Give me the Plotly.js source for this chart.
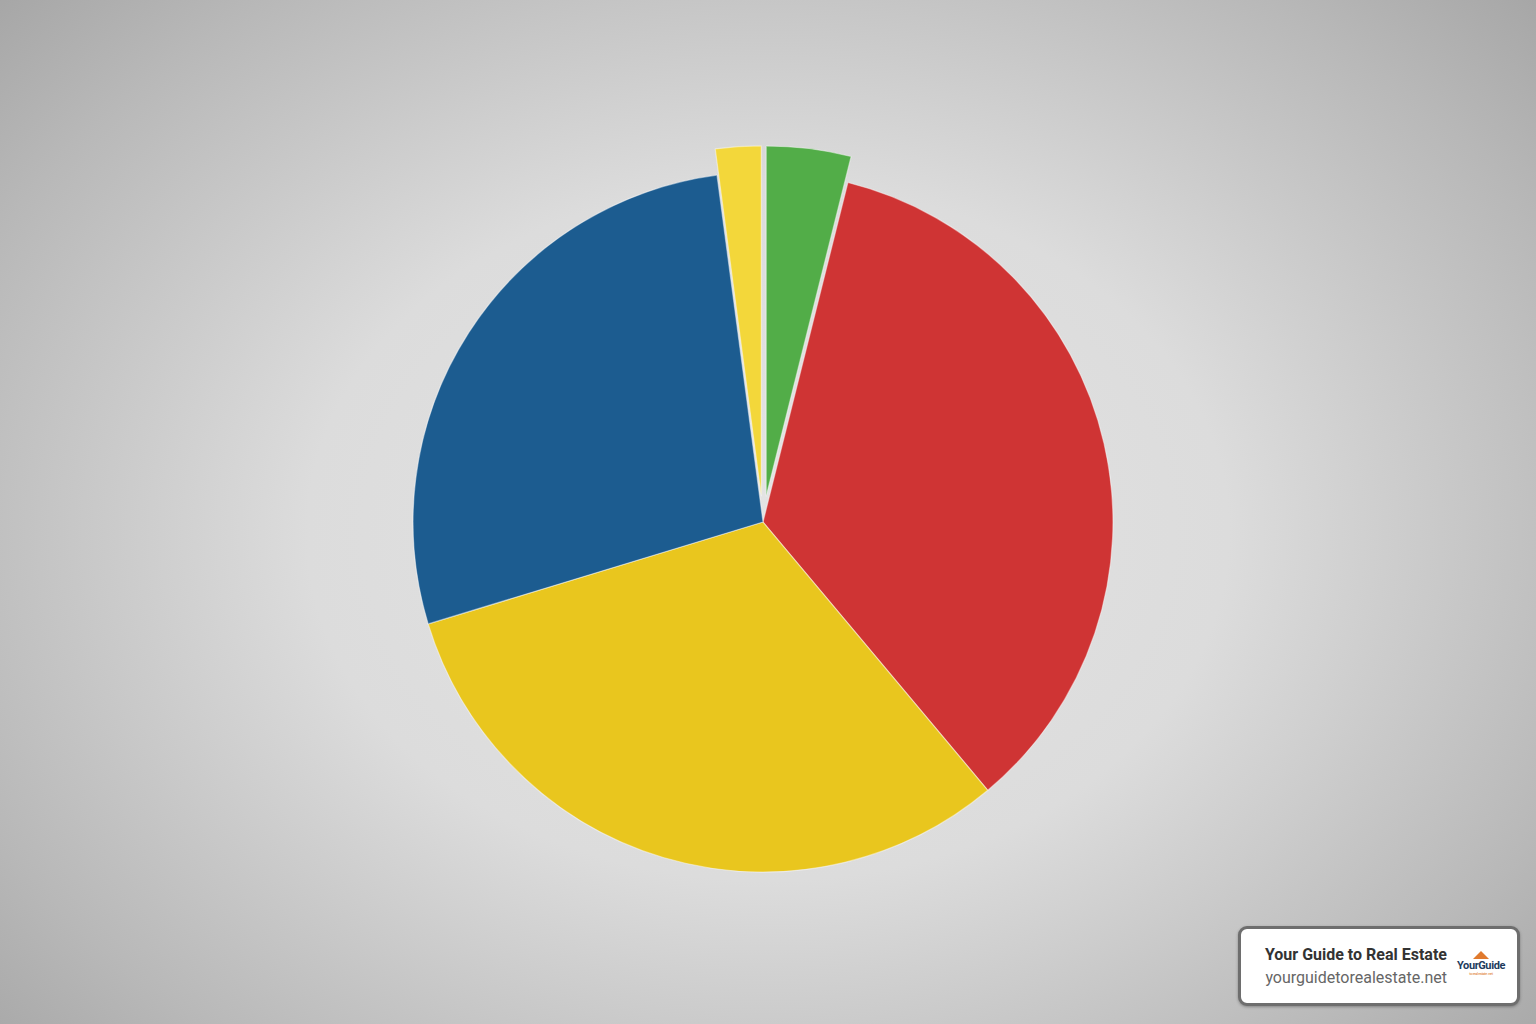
<!DOCTYPE html>
<html>
<head>
<meta charset="utf-8">
<script src="https://cdn.plot.ly/plotly-3.0.1.min.js"></script>
<style>
  html, body { margin: 0; padding: 0; width: 1536px; height: 1024px; overflow: hidden; }
  body { background: radial-gradient(ellipse 75% 85% at 50% 52%, #e4e4e4 0%, #dcdcdc 40%, #b8b8b8 75%, #9c9c9c 100%); font-family: Roboto, "Noto Sans", sans-serif; }
  #chart { position: absolute; left: 0; top: 0; width: 1536px; height: 1024px; }
  #wm { position: absolute; left: 1238px; top: 926px; width: 276px; height: 74px; background: #fff; border: 3px solid #6e6e6e; border-radius: 9px; box-shadow: 0 1px 3px rgba(0,0,0,0.3); }
  #wm .t1 { position: absolute; right: 70px; top: 16px; font-weight: bold; font-size: 16px; color: #333; white-space: nowrap; }
  #wm .t2 { position: absolute; right: 70px; top: 39px; font-size: 16px; color: #666; white-space: nowrap; }
  #wm .logo { position: absolute; left: 212px; top: 22px; width: 56px; text-align: center; font-size: 11px; font-weight: bold; color: #1d3b5c; letter-spacing: -0.4px; line-height: 11px; }
  #wm .logo .house { display: block; margin: 0 auto 1px auto; width: 0; height: 0; border-left: 8px solid transparent; border-right: 8px solid transparent; border-bottom: 8px solid #e07a2e; }
  #wm .logo .sub { display: block; font-size: 4px; line-height: 5px; color: #e07a2e; font-weight: normal; }
</style>
</head>
<body>
<div id="chart"></div>
<div id="wm">
  <div class="t1">Your Guide to Real Estate</div>
  <div class="t2">yourguidetorealestate.net</div>
  <div class="logo"><span class="house"></span>YourGuide<span class="sub">to real estate .net</span></div>
</div>
<script>
const sliceNames = ["Green", "Red", "Yellow", "Blue", "Small yellow"];
const sliceValues = [3.9, 35.0, 31.4, 27.6, 2.1];
const slicePull = [0.075, 0, 0, 0, 0.075];
const sliceColors = ["#52ad48", "#cf3434", "#e9c61e", "#1c5c90", "#f3d73a"];

const trace = {
  type: "pie",
  labels: sliceNames,
  values: sliceValues,
  pull: slicePull,
  sort: false,
  direction: "clockwise",
  rotation: 0,
  textinfo: "none",
  hoverinfo: "label+percent",
  marker: { colors: sliceColors, line: { color: "rgba(255,255,255,0.45)", width: 1.2 } },
  domain: { x: [0.2518, 0.7417], y: [0.1228, 0.8576] },
  showlegend: false
};

const layout = {
  width: 1536,
  height: 1024,
  margin: { l: 0, r: 0, t: 0, b: 0 },
  paper_bgcolor: "rgba(0,0,0,0)",
  plot_bgcolor: "rgba(0,0,0,0)",
  showlegend: false
};

Plotly.newPlot("chart", [trace], layout, { displayModeBar: false, staticPlot: true });
</script>
</body>
</html>
